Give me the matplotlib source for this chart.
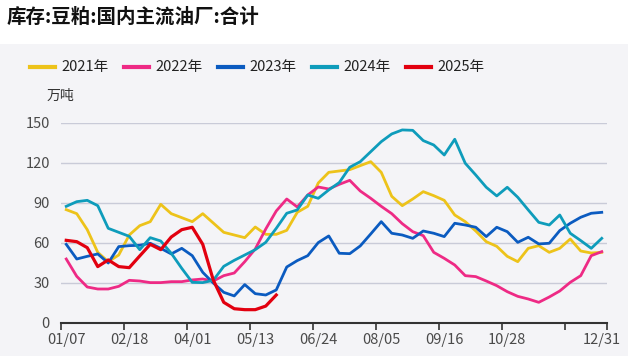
import numpy as np
import matplotlib
matplotlib.use('Agg')
import matplotlib.pyplot as plt
from matplotlib.lines import Line2D
from matplotlib.patches import Rectangle

plt.rcParams['font.family'] = ['Noto Sans CJK SC', 'DejaVu Sans']

# ── data (万吨, weekly) ──────────────────────────────────────
title = '库存:豆粕:国内主流油厂:合计'
unit = '万吨'
n_weeks = 52
tick_labels = ['01/07', '02/18', '04/01', '05/13', '06/24', '08/05', '09/16', '10/28', '12/31']
tick_weeks = [0, 6, 12, 18, 24, 30, 36, 42, 51]

y2021 = [85, 82, 70, 53, 46, 51, 66, 73, 76, 89, 82, 79, 76, 82, 75, 68, 66, 64, 72, 66.5,
         66.5, 69.5, 83, 87.5, 105, 113, 114, 115, 118, 121, 113, 95, 88, 93, 98.5, 95.5,
         92, 81, 76, 69, 61, 57.5, 50, 46, 56, 58, 53, 56, 63, 54, 52.5, 53]
y2022 = [48, 35, 27, 25.5, 25.5, 27.5, 32, 31.5, 30.3, 30.3, 31, 31, 32.3, 33, 31.5, 35.5,
         37.5, 46, 55.5, 70.5, 84, 93, 87, 96, 102, 100.5, 104, 107, 99, 93.5, 87.5, 82,
         74.5, 68.5, 65.5, 53, 48.5, 43.5, 35.5, 34.8, 31.5, 28, 23.5, 20, 18, 15.5, 19.5,
         24, 30.5, 35.5, 50.5, 53.5]
y2023 = [59, 48, 50, 51.8, 45, 57.3, 58, 58.3, 59.8, 56, 51.8, 56, 50.5, 38, 30, 23, 20.3,
         28.8, 22, 21, 24.8, 42, 46.8, 50.5, 60.3, 65.3, 52.3, 52, 57.8, 66.8, 76, 67.3, 66,
         63.5, 69, 67.3, 64.8, 74.8, 73.5, 71.8, 64.8, 71.8, 68.5, 60.5, 64.3, 59.3, 59.8,
         69.3, 74.8, 79.3, 82.3, 83]
y2024 = [87.5, 91, 92, 88, 71, 68, 65, 55, 64, 61.5, 52.3, 41, 30.5, 30.3, 32, 42.5, 47,
         51, 55, 60.5, 71, 82.3, 84.8, 96, 93.5, 99.8, 105.3, 116.8, 121, 128.5, 136, 141.8,
         144.8, 144.5, 136.8, 133.5, 126, 137.8, 119.8, 111, 101.8, 95.3, 101.8, 94.3, 84.8,
         75.5, 73.5, 81, 67.3, 61.8, 56, 63.5]
y2025 = [62, 61, 56.5, 42.3, 47.3, 42.3, 41.5, 50.3, 59, 55, 64.5, 70, 71.8, 59, 32.3,
         15.5, 10.7, 10, 10, 12.7, 21]

series = [
    ('2021年', y2021, '#EDC31A', 2.0),
    ('2022年', y2022, '#EE2A85', 2.0),
    ('2023年', y2023, '#0B5BC0', 2.0),
    ('2024年', y2024, '#0E9CBB', 2.0),
    ('2025年', y2025, '#E2000F', 2.3),
]

bg = '#F4F4F7'

fig = plt.figure(figsize=(6.28, 3.56), dpi=100)
fig.patch.set_facecolor('white')
fig.add_artist(Rectangle((0, 0), 1, 1 - 44 / 356, transform=fig.transFigure,
                         facecolor=bg, edgecolor='none', zorder=0))

ax = fig.add_axes([61 / 628, 33 / 356, 546 / 628, 200 / 356])
ax.set_facecolor(bg)

for name, vals, color, lw in series:
    x = np.arange(len(vals)) + 0.5
    ax.plot(x, vals, color=color, linewidth=lw, solid_joinstyle='round', zorder=3)

# ── axes styling ────────────────────────────────────────────
ax.set_xlim(0, n_weeks)
ax.set_ylim(0, 150)
ax.set_yticks(np.arange(0, 151, 30))
ax.tick_params(axis='y', length=0, pad=8, labelsize=10.5, labelcolor='#4A4A4A')
ax.grid(axis='y', color='#C9CBD8', linewidth=1)
ax.set_axisbelow(True)

ax.set_xticks(list(range(0, 49, 6)) + [n_weeks])
ax.set_xticklabels([])
ax.tick_params(axis='x', which='major', direction='out', length=5, width=1.2, color='#333333')
ax.set_xticks([w + 0.5 for w in tick_weeks], minor=True)
ax.set_xticklabels(tick_labels, minor=True)
ax.tick_params(axis='x', which='minor', length=0, pad=7, labelsize=10.5, labelcolor='#4A4A4A')

for s in ['top', 'right', 'left']:
    ax.spines[s].set_visible(False)
ax.spines['bottom'].set_color('#333333')
ax.spines['bottom'].set_linewidth(1.5)

# ── title, legend, unit ─────────────────────────────────────
fig.text(7 / 628, 1 - 17 / 356, title, fontsize=14, fontweight='bold',
         ha='left', va='center', color='#111111')

leg_y = 1 - 67 / 356
for k, (name, vals, color, lw) in enumerate(series):
    x0 = 30 + 94 * k
    fig.add_artist(Line2D([x0 / 628, (x0 + 25) / 628], [leg_y, leg_y],
                          transform=fig.transFigure, color=color, linewidth=3))
    fig.text((x0 + 31) / 628, leg_y, name, fontsize=10.5, ha='left', va='center',
             color='#222222')

fig.text(60 / 628, 1 - 96 / 356, unit, fontsize=10, ha='center', va='center',
         color='#333333')

fig.savefig('out.png', dpi=100, facecolor='white')
